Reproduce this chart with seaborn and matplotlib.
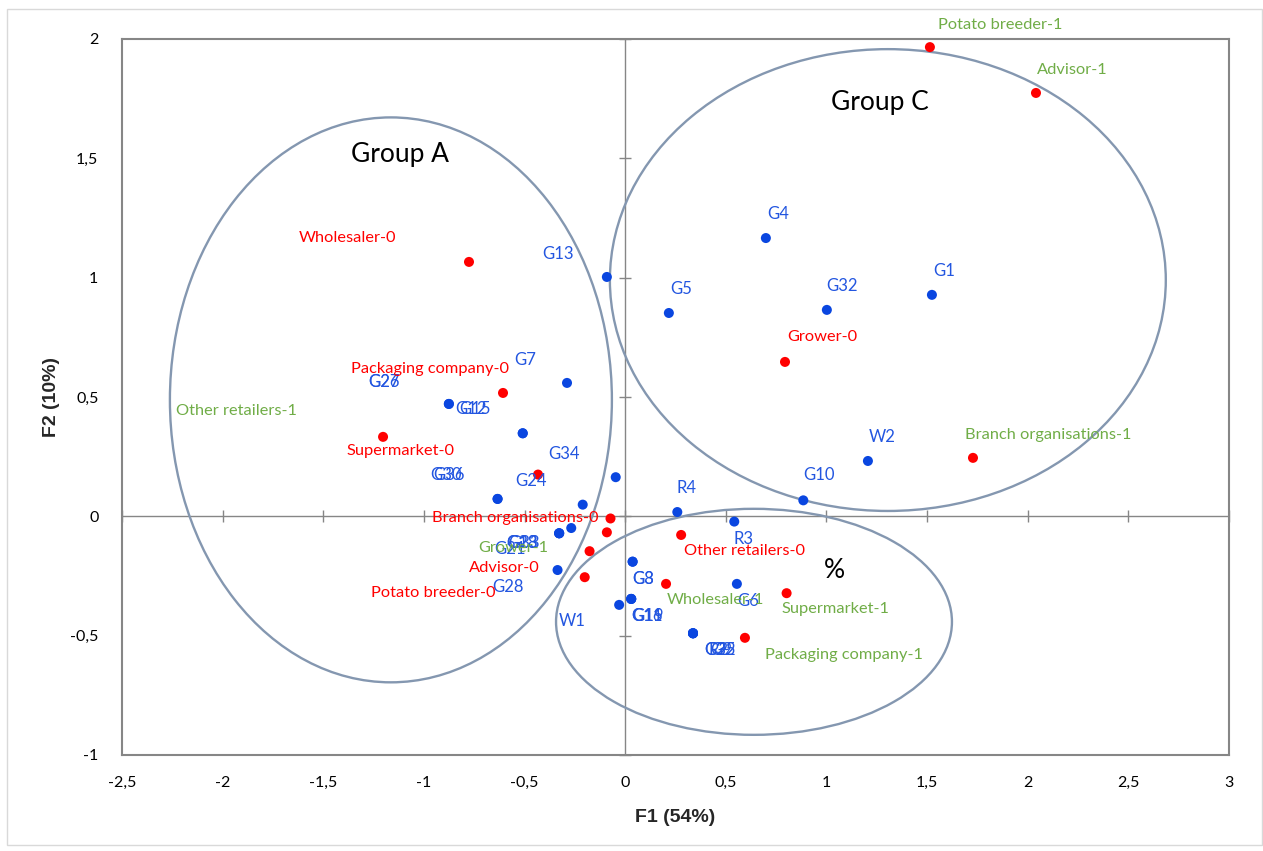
import numpy as np
import matplotlib
matplotlib.use("Agg")
import matplotlib.pyplot as plt
from matplotlib.patches import Ellipse, Rectangle
import seaborn as sns

# ---- data ----
# observations (blue)
obs_names = ["G4", "G1", "G13", "G5", "G32", "G7", "G26", "G27", "G12", "G15",
             "G34", "G30", "G36", "G24", "R4", "R3", "G10", "W2", "G21",
             "G18", "G23", "G33", "G28", "G3", "G8", "G11", "G16", "G19", "W1",
             "G22", "G35", "R2", "G9", "G6"]
obs_x = [0.699, 1.524, -0.091, 0.217, 1.002, -0.289, -0.876, -0.876, -0.509, -0.509,
         -0.047, -0.634, -0.634, -0.211, 0.259, 0.542, 0.885, 1.206, -0.268,
         -0.328, -0.328, -0.328, -0.336, 0.037, 0.037, 0.030, 0.030, 0.030, -0.030,
         0.337, 0.337, 0.337, 0.337, 0.555]
obs_y = [1.166, 0.928, 1.003, 0.852, 0.865, 0.559, 0.471, 0.471, 0.348, 0.348,
         0.164, 0.073, 0.073, 0.049, 0.018, -0.022, 0.067, 0.232, -0.049,
         -0.071, -0.071, -0.071, -0.225, -0.190, -0.190, -0.346, -0.346, -0.346, -0.371,
         -0.490, -0.490, -0.490, -0.490, -0.283]

# variable categories (red points, labels red for -0 and green for -1)
cat_names = ["Potato breeder-1", "Advisor-1", "Wholesaler-0", "Grower-0",
             "Packaging company-0", "Supermarket-0", "Branch organisations-1",
             "Other retailers-1", "Branch organisations-0", "Grower-1", "Advisor-0",
             "Potato breeder-0", "Other retailers-0", "Wholesaler-1", "Supermarket-1",
             "Packaging company-1"]
cat_x = [1.514, 2.041, -0.776, 0.794, -0.607, -1.203, 1.728, -0.433, -0.073, -0.091,
         -0.177, -0.201, 0.278, 0.203, 0.802, 0.595]
cat_y = [1.966, 1.774, 1.066, 0.647, 0.517, 0.333, 0.245, 0.175, -0.009, -0.067,
         -0.146, -0.255, -0.078, -0.283, -0.322, -0.509]

x_ticks = [-2.5, -2, -1.5, -1, -0.5, 0, 0.5, 1, 1.5, 2, 2.5, 3]
y_ticks = [-1, -0.5, 0, 0.5, 1, 1.5, 2]

# ---- label placement (layout only) ----
obs_lab_x = [0.759, 1.583, -0.334, 0.277, 1.077, -0.498, -1.198, -1.198, -0.766, -0.746,
             -0.304, -0.889, -0.873, -0.468, 0.307, 0.590, 0.963, 1.275, -0.573,
             -0.513, -0.513, -0.503, -0.583, 0.088, 0.088, 0.108, 0.108, 0.112, -0.265,
             0.471, 0.471, 0.466, 0.476, 0.610]
obs_lab_y = [1.267, 1.028, 1.099, 0.953, 0.965, 0.655, 0.563, 0.563, 0.450, 0.450,
             0.261, 0.173, 0.173, 0.148, 0.119, -0.095, 0.173, 0.333, -0.137,
             -0.111, -0.111, -0.111, -0.296, -0.262, -0.262, -0.417, -0.417, -0.417, -0.438,
             -0.560, -0.560, -0.560, -0.560, -0.354]
cat_lab_x = [1.862, 2.219, -1.382, 0.977, -0.970, -1.114, 2.100, -1.929, -0.548, -0.558,
             -0.602, -0.955, 0.595, 0.446, 1.047, 1.087]
cat_lab_y = [2.059, 1.870, 1.166, 0.752, 0.617, 0.274, 0.341, 0.442, -0.007, -0.132,
             -0.216, -0.321, -0.145, -0.350, -0.388, -0.581]

# ellipses: centre x, centre y, width, height
ell_cx = [-1.164, 1.305, 0.640]
ell_cy = [0.488, 0.990, -0.442]
ell_w = [2.196, 2.762, 1.967]
ell_h = [2.367, 1.935, 0.947]
group_text = ["Group A", "Group C", "%"]
group_x = [-1.119, 1.266, 1.042]
group_y = [1.514, 1.732, -0.229]

RED = "#FF0000"
BLUE = "#0A46E0"
BLUE_TXT = "#2356E0"
GREEN = "#70AD47"
GRAY = "#868686"
ELL = "#8497B0"

sns.set_style("white")
plt.rcParams["font.family"] = ["Lato", "DejaVu Sans"]

fig = plt.figure(figsize=(12.63, 8.51), dpi=100)
ax = fig.add_axes([122 / 1263, 1 - 755 / 851, (1229 - 122) / 1263, (755 - 39) / 851])

# light outer frame like the chart area border
fig.patches.append(Rectangle((7 / 1263, 1 - 845 / 851), 1255 / 1263, 836 / 851,
                             transform=fig.transFigure, fill=False,
                             edgecolor="#D9D9D9", lw=1))

ax.set_xlim(-2.5, 3)
ax.set_ylim(-1, 2)

# zero lines with cross ticks
ax.axhline(0, color=GRAY, lw=1, zorder=1)
ax.axvline(0, color=GRAY, lw=1, zorder=1)
ax.plot(x_ticks, np.zeros(len(x_ticks)), ls="none", marker="|", ms=9, mew=1,
        color=GRAY, zorder=1, clip_on=False)
ax.plot(np.zeros(len(y_ticks)), y_ticks, ls="none", marker="_", ms=9, mew=1,
        color=GRAY, zorder=1, clip_on=False)

for cx, cy, w, h in zip(ell_cx, ell_cy, ell_w, ell_h):
    ax.add_patch(Ellipse((cx, cy), w, h, fill=False, edgecolor=ELL, lw=1.7, zorder=2))

sns.scatterplot(x=obs_x, y=obs_y, color=BLUE, s=52, edgecolor="none", ax=ax, zorder=3)
sns.scatterplot(x=cat_x, y=cat_y, color=RED, s=52, edgecolor="none", ax=ax, zorder=3,
                clip_on=False)

for name, lx, ly in zip(obs_names, obs_lab_x, obs_lab_y):
    ax.text(lx, ly, name, color=BLUE_TXT, fontsize=12, ha="center", va="center", zorder=4)

for name, lx, ly in zip(cat_names, cat_lab_x, cat_lab_y):
    col = GREEN if name.endswith("-1") else RED
    ax.text(lx, ly, name, color=col, fontsize=11.8, ha="center", va="center", zorder=4,
            clip_on=False)

for t, gx, gy in zip(group_text, group_x, group_y):
    ax.text(gx, gy, t, color="black", fontsize=19, ha="center", va="center", zorder=4)

ax.set_xticks(x_ticks)
ax.set_xticklabels([("%g" % v).replace(".", ",") for v in x_ticks])
ax.set_yticks(y_ticks)
ax.set_yticklabels([("%g" % v).replace(".", ",") for v in y_ticks])
ax.tick_params(axis="both", length=0, labelsize=11.5, colors="black")
ax.tick_params(axis="x", pad=15)
ax.tick_params(axis="y", pad=17)

for s in ax.spines.values():
    s.set_color(GRAY)
    s.set_linewidth(1.5)
    s.set_visible(True)

lab_font = dict(family=["Liberation Sans", "DejaVu Sans"], fontweight="bold", fontsize=14)
ax.set_xlabel("F1 (54%)", labelpad=14, **lab_font)
ax.set_ylabel("F2 (10%)", labelpad=7, **lab_font)

fig.savefig("out.png", dpi=100)
